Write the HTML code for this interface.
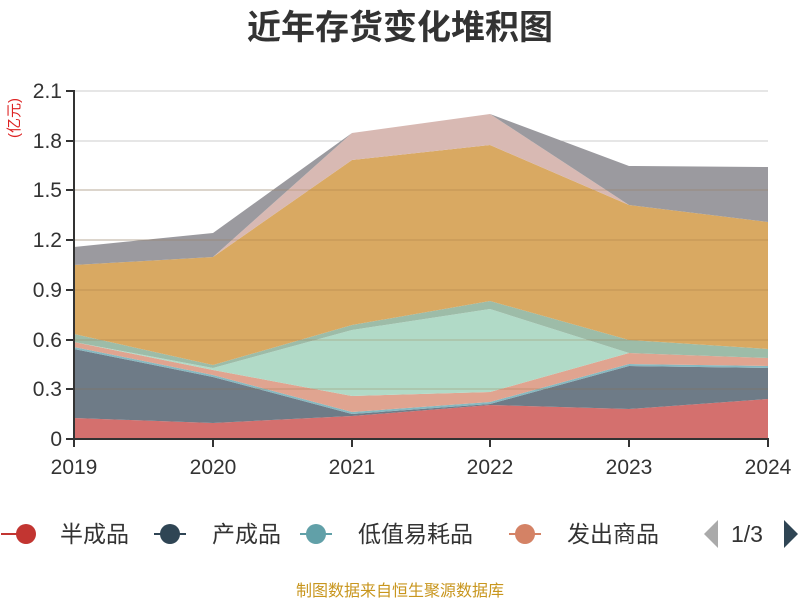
<!DOCTYPE html>
<html><head><meta charset="utf-8"><style>
body{margin:0;background:#fff;width:800px;height:600px;overflow:hidden}
text{font-family:"Liberation Sans","Noto Sans CJK SC",sans-serif}
</style></head><body>
<svg width="800" height="600" xmlns="http://www.w3.org/2000/svg">
<text x="400" y="39" text-anchor="middle" font-size="34" font-weight="bold" fill="#333">近年存货变化堆积图</text>
<g stroke="#ccc" stroke-width="1">
<line x1="74" y1="91" x2="768" y2="91"/><line x1="74" y1="141" x2="768" y2="141"/><line x1="74" y1="190" x2="768" y2="190"/><line x1="74" y1="240" x2="768" y2="240"/><line x1="74" y1="290" x2="768" y2="290"/><line x1="74" y1="340" x2="768" y2="340"/><line x1="74" y1="389" x2="768" y2="389"/>
</g>
<polygon fill="#d4706e" points="74,418 213,423 352,416 490,405 629,409 768,399 768,439 74,439"/>
<polygon fill="#6e7b87" points="74,349 213,377 352,414 490,404 629,366 768,368 768,399 629,409 490,405 352,416 213,423 74,418"/>
<polygon fill="#86b8c0" points="74,347 213,375 352,412 490,402 629,364 768,366 768,368 629,366 490,404 352,414 213,377 74,349"/>
<polygon fill="#e0a490" points="74,342 213,370 352,396 490,392 629,353 768,358 768,366 629,364 490,402 352,412 213,375 74,347"/>
<polygon fill="#b1dac7" points="74,342 213,368 352,330 490,309 629,353 768,358 768,358 629,353 490,392 352,396 213,370 74,342"/>
<polygon fill="#9dbca8" points="74,334 213,365 352,325 490,301 629,340 768,349 768,358 629,353 490,309 352,330 213,368 74,342"/>
<polygon fill="#d9a962" points="74,265 213,257 352,160 490,145 629,205 768,222 768,349 629,340 490,301 352,325 213,365 74,334"/>
<polygon fill="#d8b9b3" points="74,265 213,257 352,133 490,114 629,205 768,222 768,222 629,205 490,145 352,160 213,257 74,265"/>
<polygon fill="#9b9a9f" points="74,247 213,233 352,133 490,114 629,166 768,167 768,222 629,205 490,114 352,133 213,257 74,265"/>
<g stroke="rgba(150,110,60,0.35)" stroke-width="1">
<line x1="74" y1="290" x2="768" y2="290"/><line x1="74" y1="340" x2="768" y2="340"/><line x1="74" y1="240" x2="768" y2="240"/><line x1="74" y1="190" x2="768" y2="190"/><line x1="74" y1="389" x2="768" y2="389"/>
</g>
<g stroke="#333" stroke-width="2">
<line x1="74" y1="90" x2="74" y2="440"/><line x1="73" y1="439" x2="769" y2="439"/>
<line x1="66" y1="91" x2="74" y2="91"/><line x1="66" y1="141" x2="74" y2="141"/><line x1="66" y1="190" x2="74" y2="190"/><line x1="66" y1="240" x2="74" y2="240"/><line x1="66" y1="290" x2="74" y2="290"/><line x1="66" y1="340" x2="74" y2="340"/><line x1="66" y1="389" x2="74" y2="389"/><line x1="66" y1="439" x2="74" y2="439"/>
<line x1="74" y1="439" x2="74" y2="447"/><line x1="213" y1="439" x2="213" y2="447"/><line x1="352" y1="439" x2="352" y2="447"/><line x1="490" y1="439" x2="490" y2="447"/><line x1="629" y1="439" x2="629" y2="447"/><line x1="768" y1="439" x2="768" y2="447"/>
</g>
<g font-size="21" fill="#333" text-anchor="end">
<text x="62" y="98">2.1</text><text x="62" y="148">1.8</text><text x="62" y="197">1.5</text><text x="62" y="247">1.2</text><text x="62" y="297">0.9</text><text x="62" y="347">0.6</text><text x="62" y="396">0.3</text><text x="62" y="446">0</text>
</g>
<g font-size="21" fill="#333" text-anchor="middle">
<text x="74" y="474">2019</text><text x="213" y="474">2020</text><text x="352" y="474">2021</text><text x="490" y="474">2022</text><text x="629" y="474">2023</text><text x="768" y="474">2024</text>
</g>
<text transform="translate(19,118) rotate(-90)" font-size="15" fill="#d22" text-anchor="middle">(亿元)</text>
<g font-size="23" fill="#333">
<line x1="1" y1="534" x2="33" y2="534" stroke="#c23531" stroke-width="2"/><circle cx="26" cy="534" r="10" fill="#c23531"/><text x="60" y="542">半成品</text>
<line x1="154" y1="534" x2="186" y2="534" stroke="#2f4554" stroke-width="2"/><circle cx="170" cy="534" r="10" fill="#2f4554"/><text x="212" y="542">产成品</text>
<line x1="300" y1="534" x2="332" y2="534" stroke="#61a0a8" stroke-width="2"/><circle cx="316" cy="534" r="10" fill="#61a0a8"/><text x="358" y="542">低值易耗品</text>
<line x1="509" y1="534" x2="541" y2="534" stroke="#d48265" stroke-width="2"/><circle cx="525" cy="534" r="10" fill="#d48265"/><text x="567" y="542">发出商品</text>
<polygon points="718,520 718,548 704,534" fill="#aaa"/>
<text x="731" y="542">1/3</text>
<polygon points="784,520 784,548 798,534" fill="#2f4554"/>
</g>
<text x="400" y="596" text-anchor="middle" font-size="16" fill="#c8961e">制图数据来自恒生聚源数据库</text>
</svg>
</body></html>
